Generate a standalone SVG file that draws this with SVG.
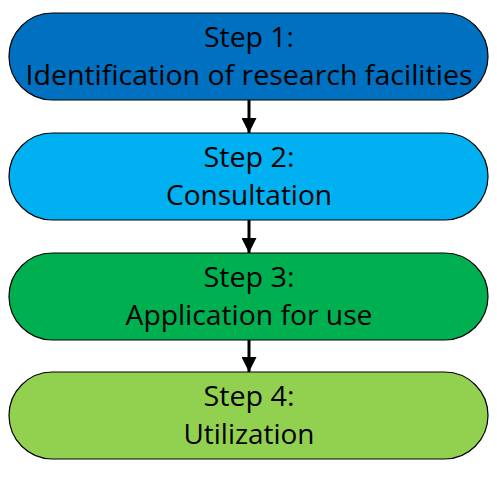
<svg xmlns="http://www.w3.org/2000/svg" width="497" height="479" viewBox="0 0 497 479">
<defs>
<style>
.box{stroke:#000;stroke-width:1.2}
.t{font-family:"Open Sans","Liberation Sans",sans-serif;font-size:27px;fill:#000;text-anchor:middle}
.c{stroke:#000;stroke-width:3;fill:none}
</style>
<marker id="ah" markerWidth="5" markerHeight="5" refX="5" refY="2.5" orient="auto" markerUnits="strokeWidth">
<path d="M0,0 L5,2.5 L0,5 Z" fill="#000"/>
</marker>
</defs>
<rect width="497" height="479" fill="#fff"/>
<g id="connectors">
<line class="c" x1="249" y1="100" x2="249" y2="133" marker-end="url(#ah)"/>
<line class="c" x1="249" y1="220" x2="249" y2="253" marker-end="url(#ah)"/>
<line class="c" x1="249" y1="340" x2="249" y2="372" marker-end="url(#ah)"/>
</g>
<g id="step1">
<rect class="box" x="9" y="13" width="479" height="87" rx="43.5" fill="#0070C0"/>
<text class="t" x="249" y="47" textLength="90" lengthAdjust="spacingAndGlyphs">Step 1:</text>
<text class="t" x="249" y="85" textLength="447" lengthAdjust="spacingAndGlyphs">Identification of research facilities</text>
</g>
<g id="step2">
<rect class="box" x="9" y="133" width="479" height="87" rx="43.5" fill="#00B0F0"/>
<text class="t" x="249" y="167" textLength="91" lengthAdjust="spacingAndGlyphs">Step 2:</text>
<text class="t" x="249" y="205" textLength="166" lengthAdjust="spacingAndGlyphs">Consultation</text>
</g>
<g id="step3">
<rect class="box" x="9" y="253" width="479" height="87" rx="43.5" fill="#00B050"/>
<text class="t" x="249" y="287" textLength="91" lengthAdjust="spacingAndGlyphs">Step 3:</text>
<text class="t" x="249" y="325" textLength="247" lengthAdjust="spacingAndGlyphs">Application for use</text>
</g>
<g id="step4">
<rect class="box" x="9" y="372" width="479" height="87" rx="43.5" fill="#92D050"/>
<text class="t" x="249" y="406" textLength="91" lengthAdjust="spacingAndGlyphs">Step 4:</text>
<text class="t" x="249" y="444" textLength="131" lengthAdjust="spacingAndGlyphs">Utilization</text>
</g>
</svg>
